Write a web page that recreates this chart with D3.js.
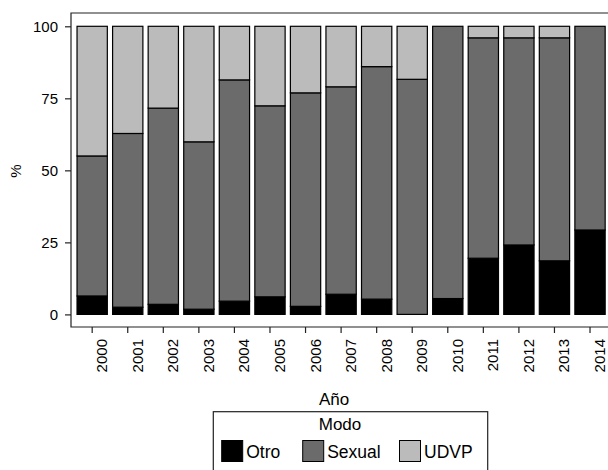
<!DOCTYPE html>
<html>
<head>
<meta charset="utf-8">
<script src="https://cdn.jsdelivr.net/npm/d3@7"></script>
<style>
  body { margin: 0; background: #fff; }
  svg { display: block; font-family: "Liberation Sans", Arial, Helvetica, sans-serif; }
</style>
</head>
<body>
<svg id="chart" width="608" height="470"></svg>
<script>
const years = ["2000","2001","2002","2003","2004","2005","2006","2007","2008","2009","2010","2011","2012","2013","2014"];
const otro   = [6.4, 2.5, 3.5, 1.8, 4.6, 6.1, 2.8, 7.0, 5.3, 0.0, 5.5, 19.5, 24.1, 18.6, 29.3];
const sexual = [48.6, 60.3, 68.1, 58.1, 76.8, 66.3, 74.1, 72.0, 80.7, 81.6, 94.5, 76.5, 71.9, 77.4, 70.7];
const udvp   = [45.0, 37.2, 28.4, 40.1, 18.6, 27.6, 23.1, 21.0, 14.0, 18.4, 0.0, 4.0, 4.0, 4.0, 0.0];
const yTicks = [0, 25, 50, 75, 100];
const seriesNames = ["Otro", "Sexual", "UDVP"];
const seriesColors = ["#000000", "#6b6b6b", "#bbbbbb"];

const svg = d3.select("#chart");

const x = d3.scaleBand().domain(years).range([74.4, 607.8]).paddingInner(0.148).paddingOuter(0.074);
const y = d3.scaleLinear().domain([0, 100]).range([314.4, 26.3]);

const rows = years.map((yr, i) => ({ year: yr, Otro: otro[i], Sexual: sexual[i], UDVP: udvp[i] }));
const stack = d3.stack().keys(seriesNames)(rows);
const color = d3.scaleOrdinal().domain(seriesNames).range(seriesColors);

// frame (left, top, bottom)
const fL = 71, fT = 13, fB = 327, fR = 620;
svg.append("path")
  .attr("d", `M${fR},${fT}H${fL}V${fB}H${fR}`)
  .attr("fill", "none").attr("stroke", "#222").attr("stroke-width", 1.2);

// bars
svg.append("g").selectAll("g").data(stack).join("g")
  .attr("fill", d => color(d.key))
  .selectAll("rect").data(d => d.filter(s => s[1] - s[0] > 0)).join("rect")
  .attr("x", d => x(d.data.year))
  .attr("width", x.bandwidth())
  .attr("y", d => y(d[1]))
  .attr("height", d => y(d[0]) - y(d[1]))
  .attr("stroke", "#000").attr("stroke-width", 1.2);

// y axis
const yAxis = d3.axisLeft(y).tickValues(yTicks).tickSize(6).tickPadding(7).tickFormat(d3.format("d"));
const gy = svg.append("g").attr("transform", `translate(${fL},0)`).call(yAxis);
gy.select(".domain").remove();
gy.selectAll(".tick line").attr("stroke", "#222").attr("stroke-width", 1.2);
gy.selectAll(".tick text").attr("font-size", 15).attr("fill", "#000")
  .attr("font-family", "'Liberation Sans', Arial, sans-serif");

// x axis
const xAxis = d3.axisBottom(x).tickSize(6).tickPadding(0);
const gx = svg.append("g").attr("transform", `translate(0,${fB})`).call(xAxis);
gx.select(".domain").remove();
gx.selectAll(".tick line").attr("stroke", "#222").attr("stroke-width", 1.2);
gx.selectAll(".tick text")
  .attr("font-size", 15).attr("fill", "#000")
  .attr("font-family", "'Liberation Sans', Arial, sans-serif")
  .attr("text-anchor", "end")
  .attr("dy", null)
  .attr("y", 0)
  .attr("transform", "translate(15,12) rotate(-90)");

// axis titles
svg.append("text").attr("transform", "translate(21,171) rotate(-90)")
  .attr("text-anchor", "middle").attr("font-size", 15).text("%");
svg.append("text").attr("x", 334).attr("y", 405)
  .attr("text-anchor", "middle").attr("font-size", 17).text("Año");

// legend
const lg = svg.append("g");
lg.append("rect").attr("x", 213.3).attr("y", 411.7).attr("width", 274.4).attr("height", 80)
  .attr("fill", "#fff").attr("stroke", "#222").attr("stroke-width", 1.2);
lg.append("text").attr("x", 340).attr("y", 430).attr("text-anchor", "middle")
  .attr("font-size", 17).text("Modo");
const legX = [221.7, 302.7, 399.5];
seriesNames.forEach((n, i) => {
  lg.append("rect").attr("x", legX[i]).attr("y", 440.5).attr("width", 21).attr("height", 21)
    .attr("fill", color(n)).attr("stroke", "#000").attr("stroke-width", 1);
  lg.append("text").attr("x", legX[i] + 24.5).attr("y", 458).attr("font-size", 17.5).text(n);
});
</script>
</body>
</html>
